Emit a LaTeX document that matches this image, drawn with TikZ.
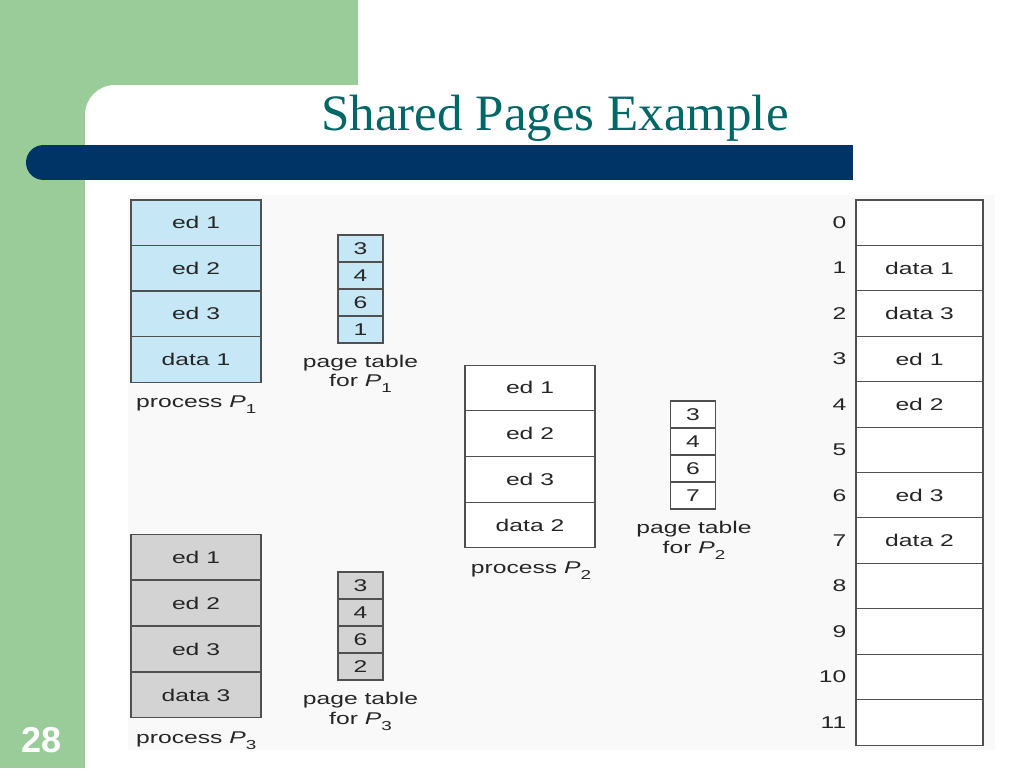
\documentclass[tikz,border=0pt]{standalone}
\usepackage{fontspec}
\setmainfont{Liberation Serif}
\newfontfamily\figfont[FakeStretch=1.45]{Liberation Sans}
\newfontfamily\numfont{Liberation Sans}
\usetikzlibrary{positioning}
\definecolor{slidegreen}{RGB}{153,204,153}
\definecolor{barblue}{RGB}{0,51,102}
\definecolor{titleteal}{RGB}{0,102,102}
\definecolor{cellblue}{RGB}{198,231,245}
\definecolor{cellgray}{RGB}{211,211,211}
\definecolor{linegray}{RGB}{80,80,80}
\definecolor{figbg}{RGB}{249,249,249}
\newcommand{\Pn}[1]{{\itshape P}\raisebox{-0.7ex}{\fontsize{13}{13}\selectfont #1}}
\begin{document}
\begin{tikzpicture}[x=1pt,y=-1pt,
 cell/.style={draw=linegray,line width=1.1pt,inner sep=0pt,font=\figfont\fontsize{17}{17}\selectfont,text=black!85},
 pcell/.style={cell,minimum width=130pt,minimum height=45.6pt},
 tcell/.style={cell,minimum width=45pt,minimum height=27pt},
 mcell/.style={cell,minimum width=127pt,minimum height=45.42pt,fill=white},
 lbl/.style={font=\figfont\fontsize{17}{17}\selectfont,inner sep=0pt,text=black!85},
 ]
\useasboundingbox (0,0) rectangle (1024,768);
\clip (0,0) rectangle (1024,768);
% slide background
\fill[slidegreen] (0,0) rectangle (358,768);
\fill[white,rounded corners=30pt] (85,85) rectangle (1100,850);
\fill[white] (358,0) rectangle (1024,85);
% title bar
\fill[barblue] (43.5,145) rectangle (853,180);
\fill[barblue] (43.5,162.5) circle (17.5pt);
\node[font=\fontsize{51}{51}\selectfont,text=titleteal,anchor=base,inner sep=0pt] (title) at (555,130) {Shared Pages Example};
\node[font=\numfont\bfseries\fontsize{36}{36}\selectfont,text=white,anchor=base,inner sep=0pt] (pg) at (42,752) {28};
% figure
\begin{scope}
\clip (128,195) rectangle (995,750);
\fill[figbg] (128,195) rectangle (995,750);
% process P1
\foreach \i/\t in {1/ed 1,2/ed 2,3/ed 3,4/data 1}
  \node[pcell,fill=cellblue] (pa\i) at (196,{200+45.5*(\i-0.5)}) {\t};
\node[lbl,anchor=base west] (pal) at (136,407) {process \Pn{1}};
% page table P1
\foreach \i/\t in {1/3,2/4,3/6,4/1}
  \node[tcell,fill=cellblue] (ta\i) at (360.5,{235+27*(\i-0.5)}) {\t};
\node[lbl,anchor=base] (tal1) at (360.5,367) {page table};
\node[lbl,anchor=base] (tal2) at (360.5,386) {for \Pn{1}};
% process P2
\foreach \i/\t in {1/ed 1,2/ed 2,3/ed 3,4/data 2}
  \node[pcell,fill=white] (pb\i) at (530,{365+45.75*(\i-0.5)}) {\t};
\node[lbl,anchor=base] (pbl) at (531,573) {process \Pn{2}};
% page table P2
\foreach \i/\t in {1/3,2/4,3/6,4/7}
  \node[tcell,fill=white] (tb\i) at (693,{401+27*(\i-0.5)}) {\t};
\node[lbl,anchor=base] (tbl1) at (694,533) {page table};
\node[lbl,anchor=base] (tbl2) at (694,553) {for \Pn{2}};
% process P3
\foreach \i/\t in {1/ed 1,2/ed 2,3/ed 3,4/data 3}
  \node[pcell,fill=cellgray] (pc\i) at (196,{534+46*(\i-0.5)}) {\t};
\node[lbl,anchor=base west] (pcl) at (136,743) {process \Pn{3}};
% page table P3
\foreach \i/\t in {1/3,2/4,3/6,4/2}
  \node[tcell,fill=cellgray] (tc\i) at (360.5,{572+27*(\i-0.5)}) {\t};
\node[lbl,anchor=base] (tcl1) at (360.5,704) {page table};
\node[lbl,anchor=base] (tcl2) at (360.5,724) {for \Pn{3}};
% physical memory
\foreach \i/\t in {0/,1/data 1,2/data 3,3/ed 1,4/ed 2,5/,6/ed 3,7/data 2,8/,9/,10/,11/}{
  \node[mcell] (m\i) at (919.5,{200+45.42*(\i+0.5)}) {\t};
  \node[lbl,left=9pt of m\i] (mn\i) {\i};
}
\end{scope}
\end{tikzpicture}
\end{document}
